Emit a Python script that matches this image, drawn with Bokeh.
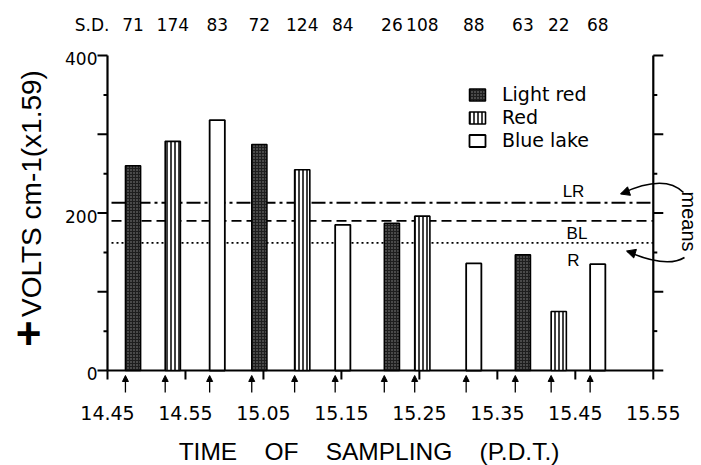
import numpy as np
from bokeh.plotting import figure
from bokeh.models import (Range1d, ColumnDataSource, Legend, LegendItem, Arrow, NormalHead)
from bokeh.core.properties import value
from bokeh.embed import file_html
from bokeh.resources import INLINE

# ---------------- data ----------------
categories = ["Light red", "Red", "Blue lake"]
# sampling times, minutes after 14.45 P.D.T.
lr_times = [2.3, 18.5, 35.5, 52.3]
red_times = [7.4, 24.0, 39.4, 56.9]
bl_times = [13.1, 29.2, 46.0, 61.9]
lr_values = [260, 287, 187, 147]
red_values = [291, 255, 196, 75]
bl_values = [318, 185, 136, 135]
sd_values = [71, 174, 83, 72, 124, 84, 26, 108, 88, 63, 22, 68]
tick_minutes = [0, 10, 20, 30, 40, 50, 60, 70]
tick_labels = ["14.45", "14.55", "15.05", "15.15", "15.25", "15.35", "15.45", "15.55"]
y_ticks = [0, 100, 200, 300, 400]
y_minor = [50, 150, 250, 350]
y_labels = ["0", "", "200", "", "400"]
mean_names = ["LR", "BL", "R"]
mean_values = [213, 190, 162]

# ---------------- geometry (page pixels -> data) ----------------
W, H = 701, 465
FL, FB = 107, 370     # position of the time origin / zero line on the page
PXM = 7.797           # px per minute
PXU = 0.7875          # px per volt unit
BW = 1.95             # bar width in minutes

def dx(px):           # horizontal pixel length -> minutes
    return px / PXM
def dy(px):           # vertical pixel length -> volts
    return px / PXU
def sx(px):
    return (px - FL) / PXM
def sy(py):
    return (FB - py) / PXU

p = figure(width=W, height=H, output_backend="svg", toolbar_location=None,
           x_range=Range1d(sx(0), sx(W)), y_range=Range1d(sy(H), sy(0)),
           x_axis_location=None, y_axis_location=None, min_border=0)
p.outline_line_color = None
p.xgrid.visible = False
p.ygrid.visible = False
p.background_fill_color = "white"
p.border_fill_color = "white"

BLACK = "black"
num_font = value("DejaVu Sans")
txt_font = value("Liberation Sans")

t0, t1 = tick_minutes[0], tick_minutes[-1]
v0, v1 = y_ticks[0], y_ticks[-1]

# ---- time axis (bottom) ----
p.segment(x0=[t0], y0=[v0], x1=[t1], y1=[v0], line_width=2.2, color=BLACK)
nt = len(tick_minutes)
p.segment(x0=tick_minutes, y0=[v0] * nt, x1=tick_minutes, y1=[v0 - dy(9)] * nt,
          line_width=2, color=BLACK)
p.text(x=tick_minutes, y=[v0 - dy(42)] * nt, text=tick_labels, text_font=num_font,
       text_font_size="19px", text_align="center", text_baseline="middle", text_color=BLACK)
p.text(x=[sx(368.5)], y=[sy(451)],
       text=["TIME\u00a0\u00a0\u00a0 OF\u00a0\u00a0\u00a0 SAMPLING\u00a0\u00a0\u00a0 (P.D.T.)"],
       text_font=txt_font, text_font_size="24.5px", text_align="center",
       text_baseline="middle", text_color=BLACK)

# ---- volts axis (left) ----
ny, nm = len(y_ticks), len(y_minor)
p.segment(x0=[t0], y0=[v0], x1=[t0], y1=[v1], line_width=2.2, color=BLACK)
p.segment(x0=[t0] * ny, y0=y_ticks, x1=[t0 - dx(10)] * ny, y1=y_ticks, line_width=2, color=BLACK)
p.segment(x0=[t0] * nm, y0=y_minor, x1=[t0 - dx(4)] * nm, y1=y_minor, line_width=2, color=BLACK)
lab_ticks = [t for t, l in zip(y_ticks, y_labels) if l]
lab_texts = [l for l in y_labels if l]
p.text(x=[t0 - dx(10)] * len(lab_ticks), y=[t - dy(3) for t in lab_ticks], text=lab_texts,
       text_font=num_font, text_font_size="17px", text_align="right",
       text_baseline="middle", text_color=BLACK)
p.text(x=[sx(31)], y=[sy(193)], text=["VOLTS cm-1(x1.59)"], angle=np.pi / 2,
       text_font=txt_font, text_font_size="28px", text_align="center",
       text_baseline="middle", text_color=BLACK)
p.text(x=[sx(28)], y=[sy(333)], text=["+"], text_font=txt_font, text_font_size="44px",
       text_font_style="bold", text_align="center", text_baseline="middle", text_color=BLACK)

# ---- right-hand axis (at 15.55) ----
p.segment(x0=[t1], y0=[v0], x1=[t1], y1=[v1], line_width=2.2, color=BLACK)
p.segment(x0=[t1] * ny, y0=y_ticks, x1=[t1 + dx(10)] * ny, y1=y_ticks, line_width=2, color=BLACK)
p.segment(x0=[t1] * nm, y0=y_minor, x1=[t1 + dx(4)] * nm, y1=y_minor, line_width=2, color=BLACK)

# ---- mean lines ----
for mv, dash in zip(mean_values, ["14 4 3 4", "10 5", "2 3"]):
    p.segment(x0=[t0 + dx(4)], y0=[mv], x1=[t1], y1=[mv], line_dash=dash,
              line_width=1.8, color=BLACK)
p.text(x=[sx(573), sx(576.5), sx(573)],
       y=[mean_values[0] + dy(11), mean_values[1] - dy(13), mean_values[2] - dy(18)],
       text=mean_names, text_font=txt_font, text_font_size="17px",
       text_align="center", text_baseline="middle", text_color=BLACK)

# ---- bars ----
def centers(ts):
    return [t + BW / 2 for t in ts]

r_lr = p.vbar(x=centers(lr_times), top=lr_values, bottom=0, width=BW,
              fill_color="#1e1e1e", line_color=BLACK, line_width=1.5,
              hatch_pattern="dot", hatch_color="#8c8c8c", hatch_scale=3, hatch_weight=0.8)
r_red = p.vbar(x=centers(red_times), top=red_values, bottom=0, width=BW,
               fill_color="white", line_color=BLACK, line_width=1.6,
               hatch_pattern="vertical_line", hatch_color=BLACK, hatch_scale=4, hatch_weight=1.5)
r_bl = p.vbar(x=centers(bl_times), top=bl_values, bottom=0, width=BW,
              fill_color="white", line_color=BLACK, line_width=1.8)

# ---- S.D. row ----
sample_times = sorted(lr_times + red_times + bl_times)
sd_y = sy(24)
p.text(x=centers(sample_times), y=[sd_y] * len(sd_values), text=[str(v) for v in sd_values],
       text_font=num_font, text_font_size="17px",
       text_align="center", text_baseline="middle", text_color=BLACK)
p.text(x=[sx(109)], y=[sd_y], text=["S.D."], text_font=num_font, text_font_size="17px",
       text_align="right", text_baseline="middle", text_color=BLACK)

# ---- sampling arrows below the time axis ----
n = len(sample_times)
arr_src = ColumnDataSource(dict(x=sample_times, y0=[v0 - dy(22)] * n, y1=[v0 - dy(5)] * n))
p.add_layout(Arrow(end=NormalHead(size=6, fill_color=BLACK, line_color=BLACK),
                   x_start="x", y_start="y0", x_end="x", y_end="y1",
                   source=arr_src, line_width=1.3, line_color=BLACK))

# ---- "means" annotation ----
p.text(x=[sx(688)], y=[sy(221)], text=["means"], angle=-np.pi / 2,
       text_font=txt_font, text_font_size="20px", text_align="center",
       text_baseline="middle", text_color=BLACK)
p.quadratic(x0=[sx(621), sx(627)], y0=[sy(193), sy(251)],
            x1=[sx(683), sx(684)], y1=[sy(192), sy(257)],
            cx=[sx(664), sx(666)], cy=[sy(173), sy(268)],
            line_width=1.6, color=BLACK)
p.add_layout(Arrow(end=NormalHead(size=9, fill_color=BLACK, line_color=BLACK),
                   x_start=sx(636), y_start=sy(188), x_end=sx(620), y_end=sy(193.5),
                   line_alpha=0))
p.add_layout(Arrow(end=NormalHead(size=9, fill_color=BLACK, line_color=BLACK),
                   x_start=sx(642), y_start=sy(255.5), x_end=sx(626), y_end=sy(250.5),
                   line_alpha=0))

# ---- legend ----
legend = Legend(items=[LegendItem(label=categories[0], renderers=[r_lr]),
                       LegendItem(label=categories[1], renderers=[r_red]),
                       LegendItem(label=categories[2], renderers=[r_bl])],
                location=(467, H - 151), orientation="vertical",
                border_line_color=None, background_fill_alpha=0, padding=0, margin=0,
                spacing=1, glyph_width=20, glyph_height=15, label_standoff=15,
                label_text_font="DejaVu Sans", label_text_font_size="19px",
                label_text_color=BLACK, label_height=20)
p.add_layout(legend)

open("out.html", "w").write(file_html(p, INLINE))
